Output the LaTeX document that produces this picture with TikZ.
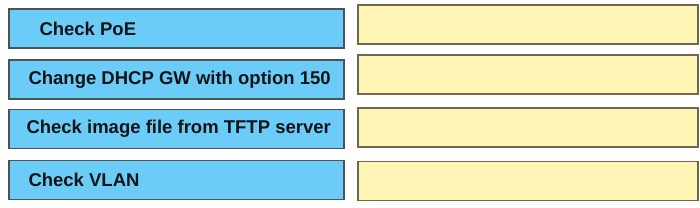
\documentclass[tikz,border=0pt]{standalone}
\usepackage{fontspec}
\setmainfont{Liberation Sans}
\usetikzlibrary{positioning}
\definecolor{stepblue}{HTML}{6CCCF8}
\definecolor{stepedge}{HTML}{4A5358}
\definecolor{slotyellow}{HTML}{FFF5B4}
\definecolor{slotedge}{HTML}{6F6850}
\definecolor{stepink}{HTML}{111418}
\tikzset{
  stepbox/.style={draw=stepedge, line width=1.4pt, fill=stepblue, minimum width=335pt, minimum height=39pt, inner sep=0pt},
  slotbox/.style={draw=slotedge, line width=1.6pt, fill=slotyellow, minimum width=340pt, minimum height=39pt, inner sep=0pt},
  steptxt/.style={anchor=west, font=\fontsize{18.5}{20}\selectfont\bfseries, text=stepink, inner sep=0pt},
}
\begin{document}
\begin{tikzpicture}[x=1pt, y=-1pt]
  \useasboundingbox (0,0) rectangle (700,207);
  % steps on the left, empty answer slots on the right
  \foreach \i/\yl/\yr/\dx/\tx in {1/28.5/24.5/31/{Check PoE}, 2/79.5/74.5/20/{Change DHCP GW with option 150}, 3/129/127.5/18/{Check image file from TFTP server}, 4/180/181/20/{Check VLAN}}
    { \node[stepbox] (step\i) at (176.5,\yl) {};
      \node[steptxt] (lbl\i) at ([xshift=\dx pt]step\i.west) {\tx};
      \node[slotbox] (slot\i) at (528,\yr) {}; }
\end{tikzpicture}
\end{document}
